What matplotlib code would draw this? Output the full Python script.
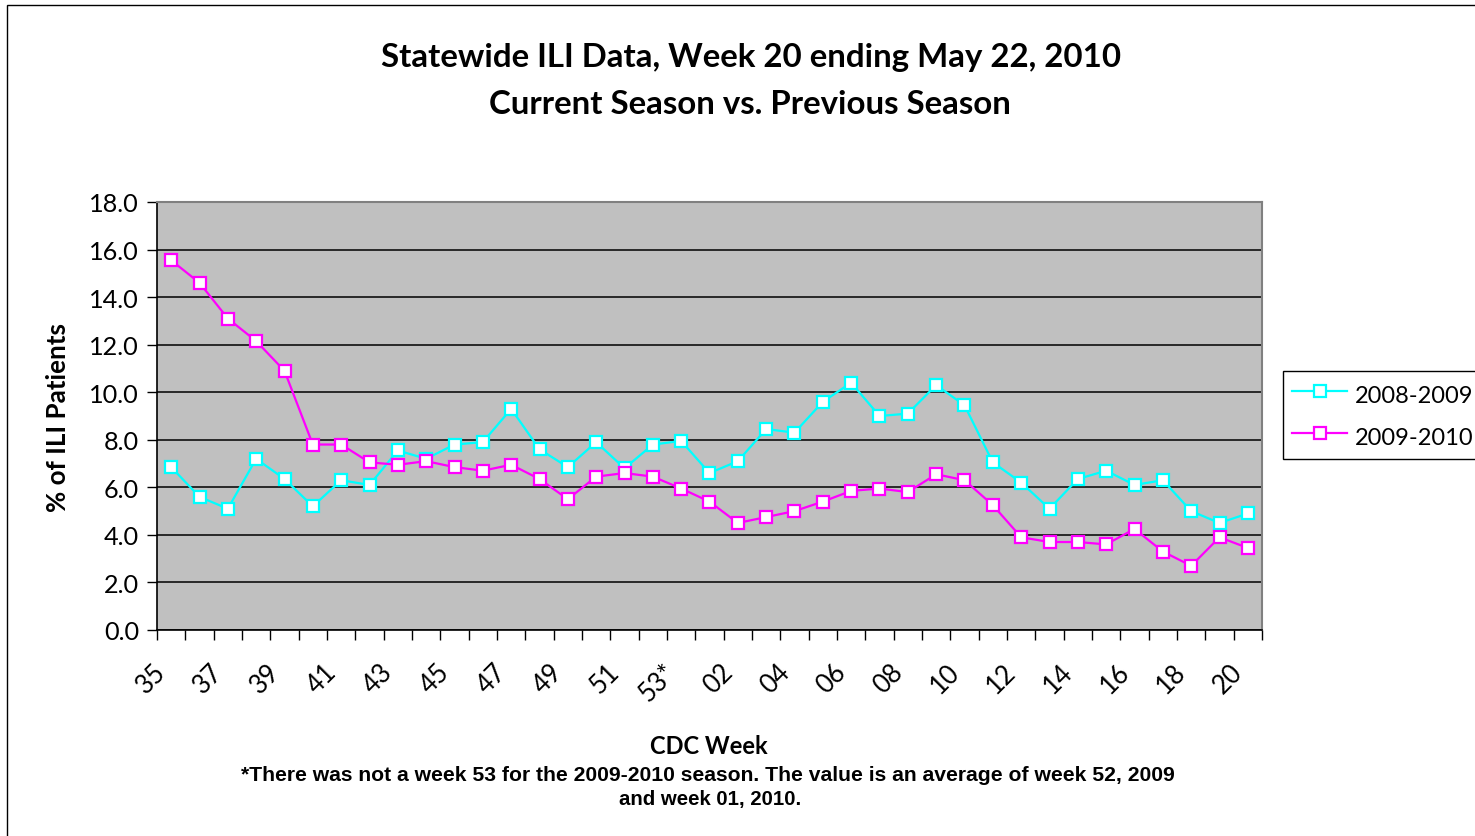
import matplotlib
matplotlib.use('Agg')
import matplotlib.pyplot as plt
import matplotlib.transforms as mtransforms
from matplotlib.patches import Rectangle
from matplotlib.lines import Line2D

weeks = [str(w) for w in range(35, 53)] + ['53*'] + ['%02d' % w for w in range(1, 21)]
season_0809 = [6.85, 5.6, 5.1, 7.2, 6.35, 5.2, 6.3, 6.1, 7.55, 7.2, 7.8, 7.9, 9.3, 7.6,
               6.85, 7.9, 6.8, 7.8,
               7.95,
               6.6, 7.1, 8.45, 8.3, 9.6, 10.4, 9.0, 9.1, 10.3, 9.45, 7.05, 6.2, 5.1,
               6.35, 6.7, 6.1, 6.3, 5.0, 4.5, 4.9]
season_0910 = [15.55, 14.6, 13.1, 12.15, 10.9, 7.8, 7.8, 7.05, 6.95, 7.1, 6.85, 6.7, 6.95,
               6.35, 5.5, 6.45, 6.6, 6.45,
               5.95,
               5.4, 4.5, 4.75, 5.0, 5.4, 5.85, 5.95, 5.8, 6.55, 6.3, 5.25, 3.9, 3.7,
               3.7, 3.6, 4.25, 3.3, 2.7, 3.9, 3.45]
series_names = ['2008-2009', '2009-2010']
series_colors = ['#00FFFF', '#FF00FF']
yticks = [0, 2, 4, 6, 8, 10, 12, 14, 16, 18]

W, H = 1475, 837
fig = plt.figure(figsize=(W / 100, H / 100), dpi=100)
fig.patch.set_facecolor('white')

calibri = ['Lato', 'DejaVu Sans']

ax = fig.add_axes([157 / W, 1 - 631 / H, (1262 - 157) / W, (631 - 203) / H])
ax.set_facecolor('#C0C0C0')

x = list(range(len(weeks)))
for vals, name, col in zip([season_0809, season_0910], series_names, series_colors):
    ax.plot(x, vals, color=col, lw=1.6, marker='s', markersize=8.5,
            markerfacecolor='white', markeredgecolor=col, markeredgewidth=1.6,
            label=name, zorder=3, clip_on=False)

ax.set_xlim(-0.5, len(weeks) - 0.5)
ax.set_ylim(0, 18)
ax.set_yticks(yticks)
ax.set_yticklabels(['%.1f' % v for v in yticks], fontfamily=calibri, fontsize=18.2)
ax.yaxis.grid(True, color='black', lw=1.1, zorder=1)
ax.set_axisbelow(True)
ax.tick_params(axis='y', direction='out', length=7, width=1, pad=6)

# x ticks: marks at category boundaries, labels every second category
ax.set_xticks([i - 0.5 for i in range(len(weeks) + 1)], minor=True)
ax.tick_params(axis='x', which='minor', direction='out', length=7, width=1)
ax.set_xticks(x[::2])
ax.set_xticklabels(weeks[::2], fontfamily=calibri, fontsize=18.5, rotation=45,
                   ha='right', va='center', rotation_mode='anchor')
ax.tick_params(axis='x', which='major', length=0, pad=27)
offset = mtransforms.ScaledTranslation(-9 / 100, 0, fig.dpi_scale_trans)
for lbl in ax.get_xticklabels():
    lbl.set_transform(lbl.get_transform() + offset)

for s in ['left', 'bottom']:
    ax.spines[s].set_color('black')
    ax.spines[s].set_linewidth(1.2)
for s in ['top', 'right']:
    ax.spines[s].set_color('#808080')
    ax.spines[s].set_linewidth(1.5)

# titles and labels
fig.text(751 / W, 1 - 58 / H, 'Statewide ILI Data, Week 20 ending May 22, 2010',
         ha='center', va='center', fontfamily=calibri, fontweight='bold', fontsize=23.8)
fig.text(750 / W, 1 - 105 / H, 'Current Season vs. Previous Season',
         ha='center', va='center', fontfamily=calibri, fontweight='bold', fontsize=23.8)
fig.text(58 / W, 1 - 418 / H, '% of ILI Patients', rotation=90, ha='center', va='center',
         fontfamily=calibri, fontweight='bold', fontsize=18.7)
fig.text(709 / W, 1 - 746 / H, 'CDC Week', ha='center', va='center',
         fontfamily=calibri, fontweight='bold', fontsize=17)
fig.text(708 / W, 1 - 776 / H,
         '*There was not a week 53 for the 2009-2010 season. The value is an average of week 52, 2009',
         ha='center', va='center', fontfamily='Liberation Sans', fontweight='bold', fontsize=15.2)
fig.text(710 / W, 1 - 800 / H, 'and week 01, 2010.', ha='center', va='center',
         fontfamily='Liberation Sans', fontweight='bold', fontsize=14.7)

# legend
handles = [Line2D([], [], color=c, lw=1.6, marker='s', markersize=8.5, markerfacecolor='white',
                  markeredgecolor=c, markeredgewidth=1.6) for c in series_colors]
leg = fig.legend(handles, series_names, loc='upper left',
                 bbox_to_anchor=(1283 / W, 1 - 372 / H), bbox_transform=fig.transFigure,
                 frameon=True, fancybox=False, edgecolor='black', framealpha=1,
                 prop={'family': calibri, 'size': 17}, handlelength=2.3, handletextpad=0.33,
                 handleheight=1.4, labelspacing=0.62, borderpad=0.4, borderaxespad=0)
leg.get_frame().set_linewidth(1.0)

# outer chart border
fig.patches.append(Rectangle((7 / W, -0.05), 1.2, 1 - 6 / H + 0.05, transform=fig.transFigure,
                             fill=False, edgecolor='black', lw=1.0))

fig.savefig('out.png', dpi=100, facecolor='white')
